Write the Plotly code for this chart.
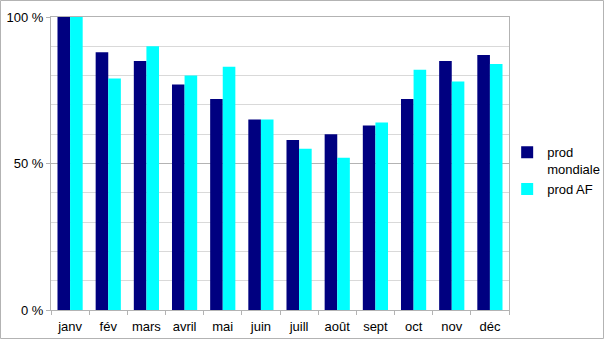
import plotly.graph_objects as go

# Monthly production, as a percentage of the peak month
mois = ["janv", "fév", "mars", "avril", "mai", "juin",
        "juill", "août", "sept", "oct", "nov", "déc"]
prod_mondiale = [100, 88, 85, 77, 72, 65, 58, 60, 63, 72, 85, 87]
prod_af = [100, 79, 90, 80, 83, 65, 55, 52, 64, 82, 78, 84]

y_ticks = [0, 50, 100]
y_tick_labels = ["0 %", "50 %", "100 %"]

W, H = 605, 340
ML, MR, MT, MB = 51, 96, 17, 30

fig = go.Figure()
fig.add_trace(go.Bar(x=mois, y=prod_mondiale, name="prod<br>mondiale",
                     marker=dict(color="#000080", line=dict(width=0))))
fig.add_trace(go.Bar(x=mois, y=prod_af, name="prod AF",
                     marker=dict(color="#00ffff", line=dict(width=0))))

axis_grey = "#b3b3b3"
fig.update_layout(
    width=W, height=H,
    margin=dict(l=ML, r=MR, t=MT, b=MB, pad=0, autoexpand=False),
    paper_bgcolor="white", plot_bgcolor="white",
    font=dict(family="Liberation Sans, Arial, sans-serif", size=13, color="#000000"),
    barmode="group", bargap=0.34, bargroupgap=0,
    showlegend=True,
    legend=dict(x=0.996, y=0.475, xanchor="left", yanchor="middle",
                font=dict(size=13), itemwidth=30, valign="top",
                bgcolor="rgba(0,0,0,0)"),
    xaxis=dict(
        showline=True, linecolor=axis_grey, linewidth=1, mirror=True,
        ticks="outside", tickson="boundaries", ticklen=4, tickcolor=axis_grey,
        tickangle=0, ticklabelstandoff=4, showgrid=False, fixedrange=True,
    ),
    yaxis=dict(
        range=[0, 100], tickvals=y_ticks, ticktext=y_tick_labels,
        showline=True, linecolor=axis_grey, linewidth=1, mirror=True,
        ticks="outside", ticklen=4, tickcolor=axis_grey,
        showgrid=True, gridcolor=axis_grey, gridwidth=1,
        minor=dict(dtick=10, showgrid=True, gridcolor="#d9d9d9", gridwidth=1),
        zeroline=False, fixedrange=True,
    ),
)

# Outer frame around the whole chart
pw, ph = W - ML - MR, H - MT - MB
fig.add_shape(type="rect", xref="paper", yref="paper",
              x0=(-ML + 0.5) / pw, x1=(W - ML - 1.5) / pw,
              y0=(-(MB) + 1.5) / ph, y1=(ph + MT - 0.5) / ph,
              line=dict(color=axis_grey, width=1), fillcolor="rgba(0,0,0,0)",
              layer="below")

fig.write_html("out.html")
